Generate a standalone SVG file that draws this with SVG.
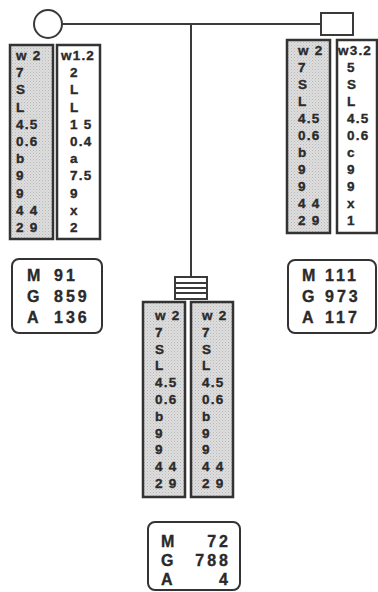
<svg xmlns="http://www.w3.org/2000/svg" width="378" height="592" viewBox="0 0 378 592">
<defs>
<pattern id="dots" width="3" height="3" patternUnits="userSpaceOnUse">
<rect width="3" height="3" fill="#dedede"/>
<rect x="0" y="0" width="1" height="1" fill="#b8b8b8"/>
<rect x="1.5" y="1.5" width="1" height="1" fill="#c4c4c4"/>
</pattern>
</defs>
<style>
.ln{stroke:#3a3a3a;stroke-width:2;fill:none}
.sym{stroke:#3a3a3a;stroke-width:2;fill:#fff}
.sh{fill:url(#dots);stroke:#333;stroke-width:2.5}
.wh{fill:#fff;stroke:#333;stroke-width:2.5}
.sum{fill:#fff;stroke:#333;stroke-width:2}
.t{font-family:"Liberation Sans",Arial,sans-serif;font-weight:bold;font-size:13.5px;letter-spacing:1.2px;fill:#2a2a2a;stroke:#2a2a2a;stroke-width:0.35}
.s{font-family:"Liberation Sans",Arial,sans-serif;font-weight:bold;font-size:16px;letter-spacing:3px;fill:#2a2a2a;stroke:#2a2a2a;stroke-width:0.35}
</style>
<rect width="378" height="592" fill="#fff"/>
<g id="connectors">
<line class="ln" x1="62" y1="24" x2="321" y2="24"/>
<line class="ln" x1="191" y1="24" x2="191" y2="277"/>
</g>
<g id="mother">
<circle class="sym" cx="48" cy="24" r="14"/>
</g>
<g id="father">
<rect class="sym" x="321" y="13" width="32" height="22"/>
</g>
<g id="offspring">
<rect class="sym" x="175" y="277" width="32" height="22"/>
<line class="ln" x1="175" y1="283" x2="207" y2="283"/>
<line class="ln" x1="175" y1="288" x2="207" y2="288"/>
<line class="ln" x1="175" y1="293" x2="207" y2="293"/>
</g>
<g id="mother-col1">
<rect class="sh" x="10" y="45" width="43" height="194"/>
<text class="t" x="16" y="60">w 2</text>
<text class="t" x="16" y="77.2">7</text>
<text class="t" x="16" y="94.4">S</text>
<text class="t" x="16" y="111.6">L</text>
<text class="t" x="16" y="128.8">4.5</text>
<text class="t" x="16" y="146">0.6</text>
<text class="t" x="16" y="163.2">b</text>
<text class="t" x="16" y="180.4">9</text>
<text class="t" x="16" y="197.6">9</text>
<text class="t" x="16" y="214.8">4 4</text>
<text class="t" x="16" y="232">2 9</text>
</g>
<g id="mother-col2">
<rect class="wh" x="57" y="45" width="43" height="194"/>
<text class="t" x="61" y="60">w1.2</text>
<text class="t" x="70" y="77.2">2</text>
<text class="t" x="70" y="94.4">L</text>
<text class="t" x="70" y="111.6">L</text>
<text class="t" x="70" y="128.8">1 5</text>
<text class="t" x="70" y="146">0.4</text>
<text class="t" x="70" y="163.2">a</text>
<text class="t" x="70" y="180.4">7.5</text>
<text class="t" x="70" y="197.6">9</text>
<text class="t" x="70" y="214.8">x</text>
<text class="t" x="70" y="232">2</text>
</g>
<g id="father-col1">
<rect class="sh" x="287" y="40" width="43" height="193"/>
<text class="t" x="298" y="55">w 2</text>
<text class="t" x="298" y="72">7</text>
<text class="t" x="298" y="89">S</text>
<text class="t" x="298" y="106">L</text>
<text class="t" x="298" y="123">4.5</text>
<text class="t" x="298" y="140">0.6</text>
<text class="t" x="298" y="157">b</text>
<text class="t" x="298" y="174">9</text>
<text class="t" x="298" y="191">9</text>
<text class="t" x="298" y="208">4 4</text>
<text class="t" x="298" y="225">2 9</text>
</g>
<g id="father-col2">
<rect class="wh" x="337" y="40" width="40" height="193"/>
<text class="t" x="338" y="55">w3.2</text>
<text class="t" x="347" y="72">5</text>
<text class="t" x="347" y="89">S</text>
<text class="t" x="347" y="106">L</text>
<text class="t" x="347" y="123">4.5</text>
<text class="t" x="347" y="140">0.6</text>
<text class="t" x="347" y="157">c</text>
<text class="t" x="347" y="174">9</text>
<text class="t" x="347" y="191">9</text>
<text class="t" x="347" y="208">x</text>
<text class="t" x="347" y="225">1</text>
</g>
<g id="offspring-col1">
<rect class="sh" x="143" y="302" width="42" height="195"/>
<text class="t" x="155" y="320">w 2</text>
<text class="t" x="155" y="336.8">7</text>
<text class="t" x="155" y="353.6">S</text>
<text class="t" x="155" y="370.4">L</text>
<text class="t" x="155" y="387.2">4.5</text>
<text class="t" x="155" y="404">0.6</text>
<text class="t" x="155" y="420.8">b</text>
<text class="t" x="155" y="437.6">9</text>
<text class="t" x="155" y="454.4">9</text>
<text class="t" x="155" y="471.2">4 4</text>
<text class="t" x="155" y="488">2 9</text>
</g>
<g id="offspring-col2">
<rect class="sh" x="191" y="302" width="42" height="195"/>
<text class="t" x="202" y="320">w 2</text>
<text class="t" x="202" y="336.8">7</text>
<text class="t" x="202" y="353.6">S</text>
<text class="t" x="202" y="370.4">L</text>
<text class="t" x="202" y="387.2">4.5</text>
<text class="t" x="202" y="404">0.6</text>
<text class="t" x="202" y="420.8">b</text>
<text class="t" x="202" y="437.6">9</text>
<text class="t" x="202" y="454.4">9</text>
<text class="t" x="202" y="471.2">4 4</text>
<text class="t" x="202" y="488">2 9</text>
</g>
<g id="mother-summary">
<rect class="sum" x="12" y="259" width="90" height="74" rx="7"/>
<text class="s" x="27" y="281">M</text><text class="s" x="54" y="281">91</text>
<text class="s" x="27" y="302">G</text><text class="s" x="54" y="302">859</text>
<text class="s" x="27" y="323">A</text><text class="s" x="54" y="323">136</text>
</g>
<g id="father-summary">
<rect class="sum" x="288" y="260" width="88" height="73" rx="7"/>
<text class="s" x="302" y="281">M</text><text class="s" x="325" y="281">111</text>
<text class="s" x="302" y="302">G</text><text class="s" x="325" y="302">973</text>
<text class="s" x="302" y="323">A</text><text class="s" x="325" y="323">117</text>
</g>
<g id="offspring-summary">
<rect class="sum" x="148" y="522" width="92" height="68" rx="7"/>
<text class="s" x="161" y="547">M</text><text class="s" x="231" y="547" text-anchor="end">72</text>
<text class="s" x="161" y="566">G</text><text class="s" x="231" y="566" text-anchor="end">788</text>
<text class="s" x="161" y="585">A</text><text class="s" x="231" y="585" text-anchor="end">4</text>
</g>
</svg>
